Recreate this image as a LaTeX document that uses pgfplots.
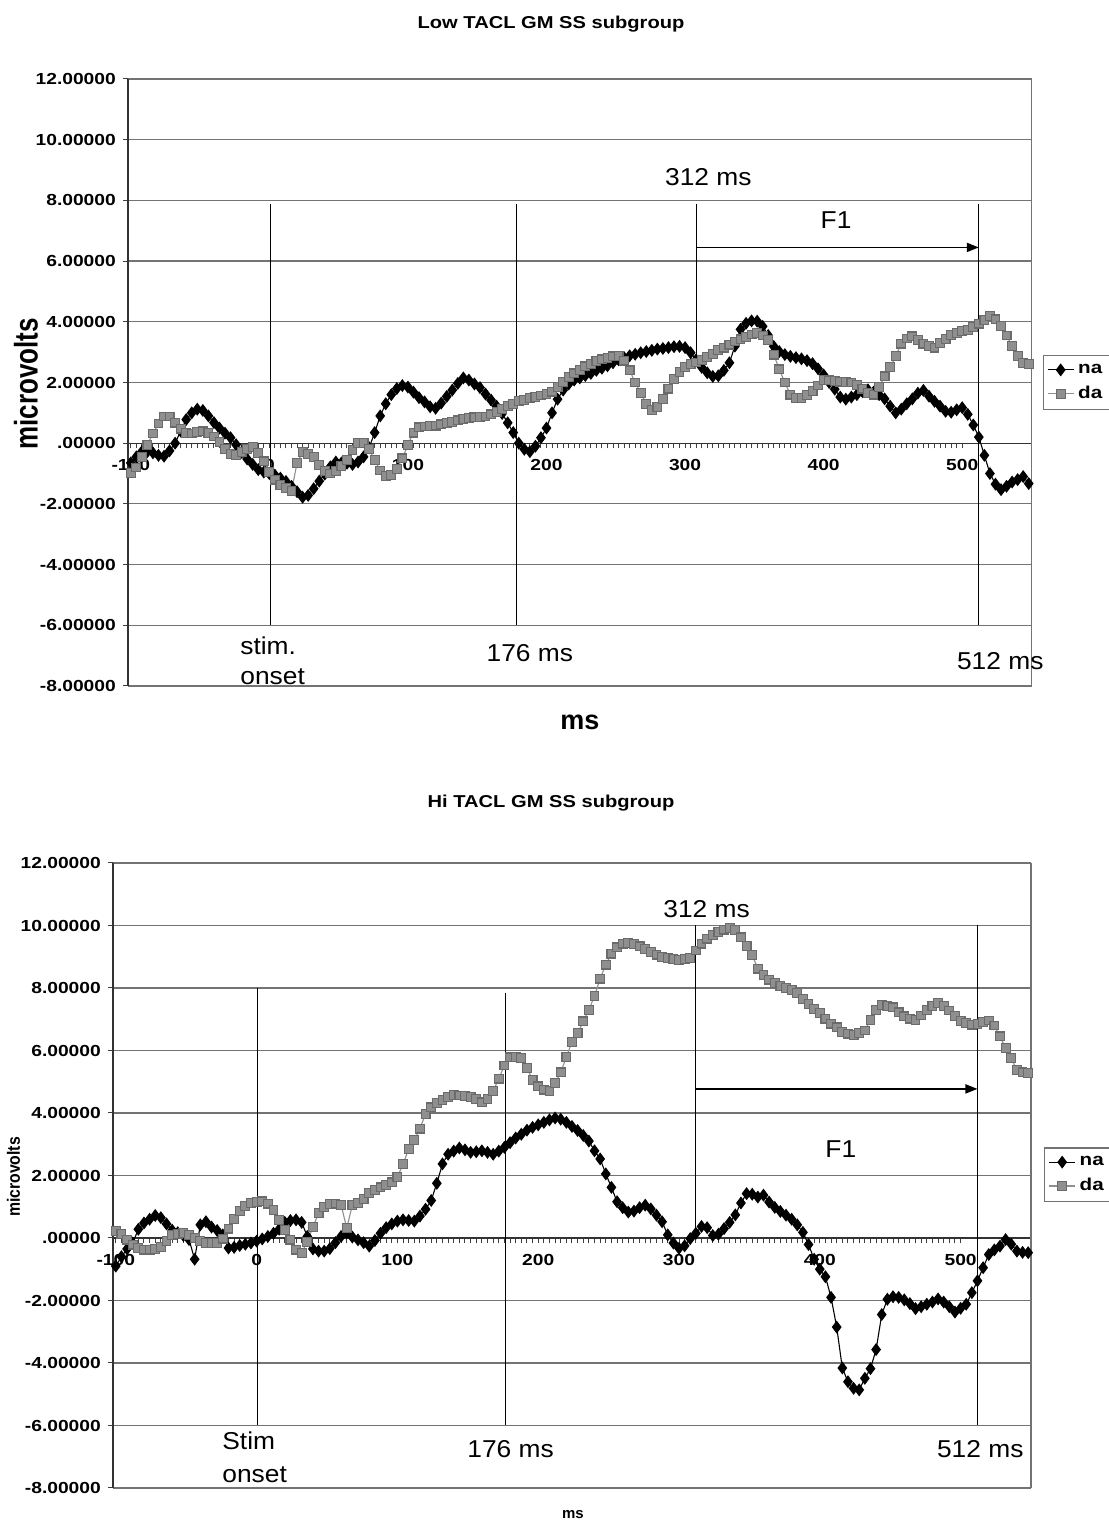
\documentclass[border=0pt]{standalone}
\usepackage{fontspec}
\setmainfont{Liberation Sans}
\usepackage{graphicx}
\usepackage{pgfplots}
\pgfplotsset{compat=1.18}
\usepackage{pgfplotstable}
\usetikzlibrary{arrows.meta}

% ERP grand means, sampled every 4 ms (t in ms, amplitudes in microvolts)
% lona/loda: low TACL subgroup, hina/hida: high TACL subgroup
\pgfplotstableread{
t lona loda hina hida
-100 -0.65 -0.98 -0.90 0.22
-96 -0.45 -0.80 -0.60 0.12
-92 -0.28 -0.45 -0.35 -0.05
-88 -0.28 -0.05 -0.16 -0.21
-84 -0.32 0.32 0.28 -0.32
-80 -0.40 0.65 0.48 -0.37
-76 -0.43 0.88 0.60 -0.37
-72 -0.25 0.88 0.72 -0.36
-68 0.00 0.68 0.65 -0.28
-64 0.40 0.48 0.45 -0.10
-60 0.78 0.33 0.25 0.10
-56 1.00 0.32 0.17 0.13
-52 1.12 0.37 0.08 0.16
-48 1.08 0.39 -0.05 0.10
-44 0.90 0.33 -0.68 0.00
-40 0.68 0.22 0.42 -0.10
-36 0.50 0.05 0.52 -0.16
-32 0.33 -0.18 0.35 -0.16
-28 0.18 -0.35 0.24 -0.16
-24 -0.05 -0.38 0.10 -0.02
-20 -0.30 -0.30 -0.32 0.30
-16 -0.52 -0.18 -0.30 0.60
-12 -0.70 -0.12 -0.24 0.86
-8 -0.87 -0.33 -0.20 1.03
-4 -0.95 -0.60 -0.16 1.12
0 -1.00 -0.95 -0.10 1.16
4 -1.05 -1.20 -0.03 1.17
8 -1.15 -1.38 0.05 1.10
12 -1.26 -1.48 0.15 0.90
16 -1.42 -1.58 0.28 0.58
20 -1.60 -0.65 0.50 0.25
24 -1.78 -0.30 0.56 -0.05
28 -1.72 -0.35 0.58 -0.37
32 -1.50 -0.45 0.50 -0.47
36 -1.25 -0.72 0.05 -0.12
40 -1.02 -0.92 -0.35 0.35
44 -0.78 -1.00 -0.42 0.80
48 -0.62 -0.92 -0.42 1.00
52 -0.65 -0.75 -0.34 1.08
56 -0.66 -0.55 -0.15 1.10
60 -0.70 -0.22 0.05 1.06
64 -0.62 0.00 0.16 0.32
68 -0.45 0.00 0.03 1.05
72 -0.15 -0.20 -0.06 1.12
76 0.35 -0.55 -0.15 1.25
80 0.90 -0.90 -0.26 1.44
84 1.30 -1.08 -0.08 1.54
88 1.60 -1.05 0.15 1.62
92 1.80 -0.85 0.33 1.70
96 1.90 -0.50 0.45 1.78
100 1.85 -0.05 0.54 1.95
104 1.68 0.35 0.58 2.37
108 1.50 0.52 0.56 2.84
112 1.36 0.55 0.54 3.14
116 1.20 0.56 0.70 3.50
120 1.15 0.58 0.92 3.97
124 1.32 0.62 1.20 4.18
128 1.54 0.66 1.75 4.32
132 1.75 0.70 2.37 4.42
136 1.97 0.75 2.68 4.52
140 2.15 0.80 2.78 4.58
144 2.08 0.83 2.88 4.56
148 1.95 0.85 2.82 4.54
152 1.83 0.86 2.74 4.52
156 1.62 0.88 2.76 4.45
160 1.42 0.95 2.79 4.34
164 1.22 1.03 2.74 4.45
168 0.98 1.12 2.68 4.70
172 0.67 1.22 2.78 5.10
176 0.35 1.30 2.90 5.52
180 0.00 1.38 3.05 5.78
184 -0.20 1.43 3.20 5.80
188 -0.28 1.48 3.32 5.75
192 -0.10 1.53 3.45 5.45
196 0.18 1.57 3.54 5.05
200 0.50 1.63 3.62 4.85
204 1.00 1.70 3.70 4.75
208 1.45 1.85 3.78 4.70
212 1.75 2.02 3.84 4.95
216 1.95 2.18 3.80 5.30
220 2.08 2.30 3.70 5.80
224 2.15 2.42 3.57 6.27
228 2.23 2.53 3.44 6.56
232 2.30 2.62 3.28 6.93
236 2.40 2.70 3.10 7.30
240 2.47 2.76 2.79 7.75
244 2.55 2.81 2.53 8.30
248 2.65 2.86 2.05 8.75
252 2.75 2.88 1.62 9.10
256 2.82 2.72 1.16 9.30
260 2.88 2.40 0.97 9.42
264 2.93 2.00 0.83 9.44
268 2.98 1.65 0.86 9.40
272 3.02 1.30 0.97 9.33
276 3.06 1.10 1.05 9.25
280 3.10 1.20 0.93 9.15
284 3.12 1.45 0.73 9.07
288 3.15 1.80 0.52 9.00
292 3.18 2.12 0.10 8.95
296 3.19 2.35 -0.16 8.92
300 3.15 2.50 -0.33 8.90
304 2.98 2.60 -0.25 8.92
308 2.75 2.66 -0.02 8.95
312 2.50 2.75 0.15 9.20
316 2.32 2.85 0.37 9.42
320 2.20 2.95 0.33 9.58
324 2.22 3.07 0.08 9.70
328 2.40 3.15 0.12 9.80
332 2.65 3.25 0.30 9.87
336 3.20 3.35 0.50 9.92
340 3.75 3.42 0.74 9.85
344 3.95 3.50 1.12 9.62
348 4.03 3.58 1.42 9.35
352 4.02 3.63 1.40 9.05
356 3.85 3.55 1.31 8.62
360 3.55 3.40 1.37 8.42
364 3.19 2.92 1.15 8.27
368 3.02 2.43 0.98 8.17
372 2.92 2.00 0.85 8.07
376 2.86 1.60 0.73 8.00
380 2.82 1.50 0.60 7.93
384 2.78 1.48 0.42 7.83
388 2.72 1.58 0.18 7.65
392 2.62 1.72 -0.21 7.48
396 2.45 1.90 -0.68 7.33
400 2.25 2.08 -1.00 7.20
404 2.00 2.07 -1.24 7.02
408 1.78 2.05 -1.90 6.86
412 1.52 2.03 -2.85 6.74
416 1.45 2.02 -4.16 6.60
420 1.52 2.00 -4.60 6.54
424 1.60 1.92 -4.81 6.50
428 1.70 1.80 -4.86 6.55
432 1.76 1.65 -4.49 6.64
436 1.68 1.60 -4.18 6.98
440 1.60 1.85 -3.57 7.30
444 1.46 2.20 -2.45 7.46
448 1.22 2.50 -1.96 7.43
452 1.00 2.87 -1.88 7.38
456 1.12 3.28 -1.90 7.22
460 1.30 3.45 -1.98 7.09
464 1.46 3.52 -2.10 7.02
468 1.65 3.40 -2.26 6.98
472 1.74 3.28 -2.20 7.12
476 1.55 3.20 -2.12 7.30
480 1.38 3.15 -2.05 7.42
484 1.22 3.30 -1.95 7.51
488 1.05 3.44 -2.05 7.42
492 1.02 3.56 -2.20 7.28
496 1.10 3.64 -2.37 7.10
500 1.17 3.70 -2.25 6.95
504 0.95 3.74 -2.12 6.88
508 0.60 3.82 -1.75 6.83
512 0.20 3.94 -1.37 6.85
516 -0.40 4.05 -0.95 6.92
520 -1.00 4.18 -0.53 6.96
524 -1.35 4.08 -0.38 6.80
528 -1.53 3.86 -0.26 6.45
532 -1.42 3.55 -0.05 6.08
536 -1.28 3.20 -0.20 5.75
540 -1.20 2.88 -0.42 5.37
544 -1.10 2.65 -0.46 5.30
548 -1.33 2.60 -0.47 5.27
}\erp

\definecolor{gridgray}{gray}{0.45}
\definecolor{dagray}{gray}{0.56}

\newcommand{\tickfont}{\fontsize{8}{9}\selectfont\bfseries}
\newcommand{\legfont}{\fontsize{8.6}{10}\selectfont\bfseries}
\newcommand{\tl}[1]{\scalebox{1.2}[1]{#1}}
\newcommand{\annotfont}{\fontsize{12.2}{14}\selectfont}
\newcommand{\an}[1]{\scalebox{1.08}[1]{#1}}

\tikzset{eventline/.style={black, line width=0.5pt}}

\pgfplotsset{
  erpaxis/.style={
    scale only axis,
    clip=false,
    xmin=-102, xmax=550, ymin=-8, ymax=12,
    axis x line=middle, axis y line=left,
    axis line style={-, black!80, line width=0.6pt},
    xtick={-100,0,100,200,300,400,500},
    xticklabels={\tl{-100},\tl{0},\tl{100},\tl{200},\tl{300},\tl{400},\tl{500}},
    minor x tick num=24,
    ytick={-8,-6,...,12},
    yticklabels={\tl{-8.00000},\tl{-6.00000},\tl{-4.00000},\tl{-2.00000},\tl{.00000},
                 \tl{2.00000},\tl{4.00000},\tl{6.00000},\tl{8.00000},\tl{10.00000},\tl{12.00000}},
    ymajorgrids,
    grid style={gridgray, line width=0.6pt},
    tick align=outside,
    major tick length=2.6pt, minor tick length=2.6pt,
    tick style={black!75, line width=0.5pt},
    ticklabel style={font=\tickfont},
    xticklabel style={yshift=-2pt},
    legend cell align=left,
    legend style={draw=gridgray, line width=0.6pt, font=\legfont,
                  inner xsep=2pt, inner ysep=2pt, row sep=1pt},
    legend image code/.code={
      \draw[mark repeat=2, mark phase=2, ##1]
        plot coordinates {(0pt,0pt) (6.5pt,0pt) (13pt,0pt)};},
  },
  naplot/.style={black, line width=0.55pt, mark=diamond*, mark size=2.8pt,
                 mark options={solid, fill=black}},
  daplot/.style={dagray, line width=0.55pt, mark=square*, mark size=2.2pt,
                 mark options={solid, draw=black!58, fill=dagray}},
}

\begin{document}
\begin{tikzpicture}
\useasboundingbox (0,0) rectangle (554.5pt,761.5pt);

% ---------------- Low TACL subgroup ----------------
\node[font=\fontsize{8.6}{10}\selectfont\bfseries] at (275.5pt,749.5pt)
  {\scalebox{1.17}[1]{Low TACL GM SS subgroup}};
\node[rotate=90, font=\fontsize{13}{15}\selectfont\bfseries] at (13pt,569.5pt)
  {\scalebox{1}[1.26]{microvolts}};
\node[font=\fontsize{13.5}{15}\selectfont\bfseries] at (290pt,400.5pt) {ms};

\begin{axis}[erpaxis,
  at={(64pt,418.5pt)}, anchor=south west,
  width=451.75pt, height=303.5pt,
  legend style={at={(1.0122,0.545)}, anchor=north west}]
\addplot[naplot] table[x=t, y=lona] {\erp};
\addplot[daplot] table[x=t, y=loda] {\erp};
\legend{\tl{na},\tl{da}}
\draw[gridgray, line width=0.6pt] (rel axis cs:1,0) -- (rel axis cs:1,1);
% event markers
\draw[eventline] (axis cs:0.5,7.89) -- (axis cs:0.5,-6);
\draw[eventline] (axis cs:178,7.89) -- (axis cs:178,-6);
\draw[eventline] (axis cs:308,7.89) -- (axis cs:308,2.6);
\draw[eventline] (axis cs:512,7.89) -- (axis cs:512,-6);
\draw[-{Triangle[length=6pt,width=4.5pt]}, line width=0.9pt]
  (axis cs:308,6.45) -- (axis cs:512,6.45);
\node[font=\annotfont] at (axis cs:316.8,8.78) {\an{312 ms}};
\node[font=\annotfont] at (axis cs:409,7.35) {\an{F1}};
\node[font=\annotfont, anchor=base west, inner sep=0pt] at (axis cs:-21.2,-6.97) {\an{stim.}};
\node[font=\annotfont, anchor=base west, inner sep=0pt] at (axis cs:-21.2,-7.96) {\an{onset}};
\node[font=\annotfont, anchor=base west, inner sep=0pt] at (axis cs:156.5,-7.2) {\an{176 ms}};
\node[font=\annotfont, anchor=base west, inner sep=0pt] at (axis cs:496,-7.46) {\an{512 ms}};
\end{axis}

% ---------------- Hi TACL subgroup ----------------
\node[font=\fontsize{8.6}{10}\selectfont\bfseries] at (275.5pt,360pt)
  {\scalebox{1.17}[1]{Hi TACL GM SS subgroup}};
\node[rotate=90, font=\fontsize{7.9}{9}\selectfont\bfseries] at (6.75pt,173pt)
  {\scalebox{1}[1.13]{microvolts}};
\node[font=\fontsize{7.5}{9}\selectfont\bfseries] at (286.5pt,4pt) {ms};

\begin{axis}[erpaxis,
  at={(56.5pt,17.5pt)}, anchor=south west,
  width=459pt, height=312.5pt,
  legend style={at={(1.0142,0.545)}, anchor=north west}]
\addplot[naplot] table[x=t, y=hina] {\erp};
\addplot[daplot] table[x=t, y=hida] {\erp};
\legend{\tl{na},\tl{da}}
\draw[gridgray, line width=0.6pt] (rel axis cs:1,0) -- (rel axis cs:1,1);
% event markers
\draw[eventline] (axis cs:0.6,8) -- (axis cs:0.6,-6);
\draw[eventline] (axis cs:176.8,7.85) -- (axis cs:176.8,-6);
\draw[eventline] (axis cs:312,10) -- (axis cs:312,0.2);
\draw[eventline] (axis cs:512,10) -- (axis cs:512,-6);
\draw[-{Triangle[length=6pt,width=4.5pt]}, line width=0.9pt]
  (axis cs:312,4.77) -- (axis cs:512,4.77);
\node[font=\annotfont, anchor=base west, inner sep=0pt] at (axis cs:288.6,10.27) {\an{312 ms}};
\node[font=\annotfont, anchor=base west, inner sep=0pt] at (axis cs:403.7,2.59) {\an{F1}};
\node[font=\annotfont, anchor=base west, inner sep=0pt] at (axis cs:-24.6,-6.78) {\an{Stim}};
\node[font=\annotfont, anchor=base west, inner sep=0pt] at (axis cs:-24.6,-7.84) {\an{onset}};
\node[font=\annotfont, anchor=base west, inner sep=0pt] at (axis cs:149.4,-7.04) {\an{176 ms}};
\node[font=\annotfont, anchor=base west, inner sep=0pt] at (axis cs:483,-7.04) {\an{512 ms}};
\end{axis}
\end{tikzpicture}
\end{document}
